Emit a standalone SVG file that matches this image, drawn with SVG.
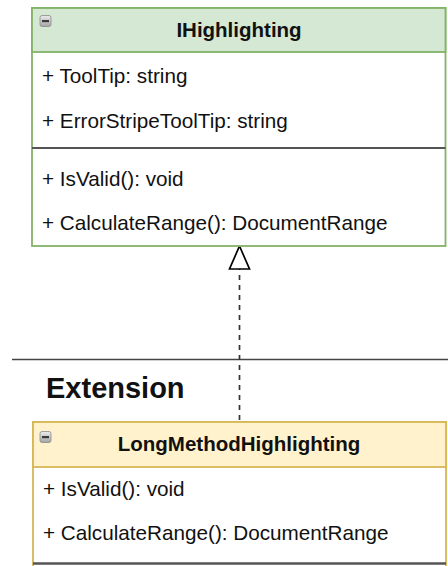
<svg xmlns="http://www.w3.org/2000/svg" width="448" height="566" viewBox="0 0 448 566">
  <defs>
    <linearGradient id="iconGrad" x1="0" y1="0" x2="0" y2="1">
      <stop offset="0" stop-color="#ececec"/>
      <stop offset="1" stop-color="#a4a4a4"/>
    </linearGradient>
    <style>
      .member { font-family: "Liberation Sans", Arial, sans-serif; font-size: 20.7px; fill: #111; }
      .title { font-family: "Liberation Sans", Arial, sans-serif; font-size: 20.5px; font-weight: bold; fill: #111; text-anchor: middle; }
      .heading { font-family: "Liberation Sans", Arial, sans-serif; font-size: 29px; font-weight: bold; fill: #111; }
      .sep { stroke: #555; stroke-width: 2; }
      .icon { fill: url(#iconGrad); stroke: #8a8a8a; stroke-width: 0.8; }
      .iconbar { fill: #3a3a3a; }
    </style>
  </defs>
  <rect width="448" height="566" fill="#fff"/>

  <g id="divider">
    <line x1="12" y1="359.5" x2="448" y2="359.5" stroke="#444" stroke-width="1.7"/>
    <text class="heading" x="46" y="398">Extension</text>
  </g>

  <g id="connectors">
    <line x1="239.5" y1="420" x2="239.5" y2="269" stroke="#333" stroke-width="1.7" stroke-dasharray="5 5"/>
    <path d="M239.5 246 L249.5 269 L229.5 269 Z" fill="#fff" stroke="#000" stroke-width="1.7"/>
  </g>

  <g id="IHighlighting">
    <rect x="32" y="8" width="413.5" height="238" fill="#fff" stroke="#82b366" stroke-width="1.8"/>
    <rect x="32" y="8" width="413.5" height="44" fill="#d5e8d4" stroke="#82b366" stroke-width="1.8"/>
    <rect class="icon" x="40" y="15.5" width="11" height="11" rx="2"/>
    <rect class="iconbar" x="42" y="20" width="7" height="2.2"/>
    <text class="title" x="239" y="37">IHighlighting</text>
    <text class="member" x="42" y="83">+ ToolTip: string</text>
    <text class="member" x="42" y="128">+ ErrorStripeToolTip: string</text>
    <line class="sep" x1="32" y1="148" x2="445.5" y2="148"/>
    <text class="member" x="42" y="186">+ IsValid(): void</text>
    <text class="member" x="42" y="230">+ CalculateRange(): DocumentRange</text>
  </g>

  <g id="LongMethodHighlighting">
    <rect x="33" y="422" width="413" height="160" fill="#fff" stroke="#d6b656" stroke-width="1.8"/>
    <rect x="33" y="422" width="413" height="45" fill="#fff2cc" stroke="#d6b656" stroke-width="1.8"/>
    <rect class="icon" x="40" y="431.5" width="11" height="11" rx="2"/>
    <rect class="iconbar" x="42" y="436" width="7" height="2.2"/>
    <text class="title" x="239" y="451">LongMethodHighlighting</text>
    <text class="member" x="43" y="496">+ IsValid(): void</text>
    <text class="member" x="43" y="540">+ CalculateRange(): DocumentRange</text>
    <line x1="33" y1="563.5" x2="446" y2="563.5" stroke="#555" stroke-width="2.5"/>
  </g>
</svg>
